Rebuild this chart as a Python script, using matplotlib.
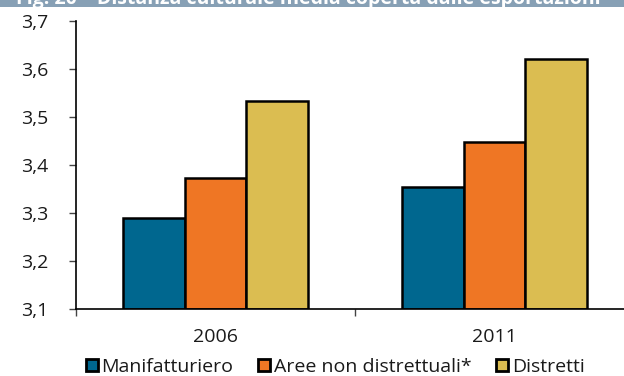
import matplotlib
matplotlib.use("Agg")
import matplotlib.pyplot as plt
from matplotlib.patches import Patch, Rectangle
import numpy as np

plt.rcParams['font.family'] = ['Open Sans', 'DejaVu Sans']

years = ["2006", "2011"]
series_names = ["Manifatturiero", "Aree non distrettuali*", "Distretti"]
manifatturiero = [3.29, 3.354]
aree_non_distrettuali = [3.372, 3.448]
distretti = [3.534, 3.621]
yticks = [3.1, 3.2, 3.3, 3.4, 3.5, 3.6, 3.7]
ytick_labels = ["3,1", "3,2", "3,3", "3,4", "3,5", "3,6", "3,7"]
title = "Fig. 20 \u2013 Distanza culturale media coperta dalle esportazioni"

colors = ["#00678f", "#ef7624", "#dbbd51"]
series = [manifatturiero, aree_non_distrettuali, distretti]

W, H = 624, 376
fs = 14
fig = plt.figure(figsize=(W / 100, H / 100), dpi=100)

# header band, with the title sitting mostly above the canvas
fig.patches.append(Rectangle((0, 1 - 7 / H), 1, 7 / H, transform=fig.transFigure,
                             facecolor="#87a0b5", edgecolor="none", zorder=0))
fig.text(16 / W, 1 + 1 / H, title, color="white", fontsize=fs, fontweight="bold",
         ha="left", va="center")

ax = fig.add_axes([76 / W, 67 / H, 558 / W, 288 / H])
x = np.arange(len(years))
bw = 0.222
for i, (vals, c) in enumerate(zip(series, colors)):
    ax.bar(x + (i - 1) * bw, np.array(vals) - 3.1, bw, bottom=3.1, color=c,
           edgecolor="black", linewidth=1.8, zorder=2)

ax.set_xlim(-0.5, 1.5)
ax.set_ylim(3.1, 3.7)
ax.set_yticks(yticks)
ax.set_yticklabels(ytick_labels)
ax.set_xticks([-0.5, 0.5, 1.5])
ax.set_xticklabels([])
ax.set_xticks(x, minor=True)
ax.set_xticklabels(years, minor=True)
ax.tick_params(axis="x", which="minor", length=0, pad=14, labelsize=fs)
ax.tick_params(axis="x", which="major", length=5, width=1, color="#444444")
ax.tick_params(axis="y", length=5, width=1, color="#444444", pad=15, labelsize=fs)
for lab in ax.get_yticklabels() + ax.get_xticklabels(minor=True):
    lab.set_color("#1a1a1a")

for s in ["top", "right"]:
    ax.spines[s].set_visible(False)
for s in ["left", "bottom"]:
    ax.spines[s].set_linewidth(1.2)
    ax.spines[s].set_color("black")
    ax.spines[s].set_zorder(3)

handles = [Patch(facecolor=c, edgecolor="black", linewidth=2.0) for c in colors]
leg = fig.legend(handles, series_names, loc="center", bbox_to_anchor=(335 / W, 1 - 367 / H),
                 ncol=3, frameon=False, fontsize=fs, handlelength=0.62, handleheight=0.62,
                 handletextpad=0.2, columnspacing=1.25, borderaxespad=0, borderpad=0)
for t in leg.get_texts():
    t.set_color("#1a1a1a")

fig.savefig("out.png", dpi=100)
